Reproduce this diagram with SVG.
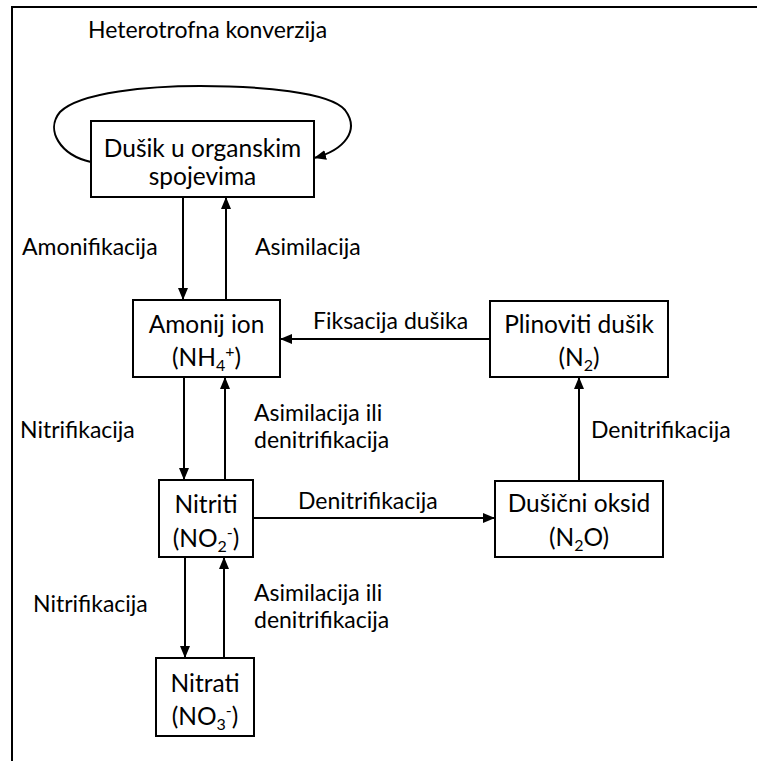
<svg xmlns="http://www.w3.org/2000/svg" width="757" height="761" viewBox="0 0 757 761">
<style>
text{font-family:Lato,"Liberation Sans",sans-serif;fill:#000}
.lbl{font-size:23px}
.box{font-size:24.5px;text-anchor:middle}
.sub{font-size:16px}
.n{fill:#fff;stroke:#000;stroke-width:2}
.c{fill:none;stroke:#000;stroke-width:2}
</style>
<defs>
<marker id="ah" viewBox="0 0 12 10" refX="12" refY="5" markerWidth="12" markerHeight="10" markerUnits="userSpaceOnUse" orient="auto">
<path d="M0,0 L12,5 L0,10 z" fill="#000"/>
</marker>
</defs>
<rect width="757" height="761" fill="#fff"/>
<path class="c" d="M12 761 L12 7 L757 7"/>
<text class="lbl" x="88" y="38">Heterotrofna konverzija</text>

<g id="connectors">
<path class="c" d="M91 162 C60 155,45 130,60 112 C80 92,150 86,200 86 C260 86,330 92,345 110 C360 130,345 150,314 158" marker-end="url(#ah)"/>
<line class="c" x1="183" y1="197" x2="183" y2="300" marker-end="url(#ah)"/>
<line class="c" x1="226" y1="300" x2="226" y2="197" marker-end="url(#ah)"/>
<line class="c" x1="184" y1="377" x2="184" y2="480" marker-end="url(#ah)"/>
<line class="c" x1="225" y1="480" x2="225" y2="377" marker-end="url(#ah)"/>
<line class="c" x1="185" y1="557" x2="185" y2="658" marker-end="url(#ah)"/>
<line class="c" x1="224" y1="658" x2="224" y2="557" marker-end="url(#ah)"/>
<line class="c" x1="253" y1="518" x2="495" y2="518" marker-end="url(#ah)"/>
<line class="c" x1="579" y1="481" x2="579" y2="377" marker-end="url(#ah)"/>
<line class="c" x1="490" y1="339" x2="280" y2="339" marker-end="url(#ah)"/>
<text class="lbl" x="22" y="255">Amonifikacija</text>
<text class="lbl" x="255" y="255">Asimilacija</text>
<text class="lbl" x="313" y="329">Fiksacija dušika</text>
<text class="lbl" x="20" y="438">Nitrifikacija</text>
<text class="lbl" x="254" y="421">Asimilacija ili</text>
<text class="lbl" x="254" y="448">denitrifikacija</text>
<text class="lbl" x="591" y="438">Denitrifikacija</text>
<text class="lbl" x="298" y="509">Denitrifikacija</text>
<text class="lbl" x="33" y="612">Nitrifikacija</text>
<text class="lbl" x="254" y="601">Asimilacija ili</text>
<text class="lbl" x="254" y="628">denitrifikacija</text>
</g>

<g id="organski">
<rect class="n" x="91" y="121" width="223" height="76"/>
<text class="box" x="202.5" y="157">Dušik u organskim</text>
<text class="box" x="202.5" y="185">spojevima</text>
</g>
<g id="amonij">
<rect class="n" x="133" y="300" width="147" height="77"/>
<text class="box" x="206.5" y="333">Amonij ion</text>
<text class="box" x="206.5" y="366">(NH<tspan class="sub" dy="5">4</tspan><tspan class="sub" dy="-14">+</tspan><tspan dy="9">)</tspan></text>
</g>
<g id="plinoviti">
<rect class="n" x="490" y="301" width="178" height="76"/>
<text class="box" x="579" y="333">Plinoviti dušik</text>
<text class="box" x="579" y="366">(N<tspan class="sub" dy="5">2</tspan><tspan dy="-5">)</tspan></text>
</g>
<g id="nitriti">
<rect class="n" x="159" y="480" width="94" height="77"/>
<text class="box" x="206" y="513">Nitriti</text>
<text class="box" x="206" y="547">(NO<tspan class="sub" dy="5">2</tspan><tspan class="sub" dy="-14">-</tspan><tspan dy="9">)</tspan></text>
</g>
<g id="oksid">
<rect class="n" x="495" y="481" width="168" height="76"/>
<text class="box" x="579" y="512">Dušični oksid</text>
<text class="box" x="579" y="546">(N<tspan class="sub" dy="5">2</tspan><tspan dy="-5">O)</tspan></text>
</g>
<g id="nitrati">
<rect class="n" x="156" y="658" width="98" height="78"/>
<text class="box" x="205" y="692">Nitrati</text>
<text class="box" x="205" y="725">(NO<tspan class="sub" dy="5">3</tspan><tspan class="sub" dy="-14">-</tspan><tspan dy="9">)</tspan></text>
</g>
</svg>
